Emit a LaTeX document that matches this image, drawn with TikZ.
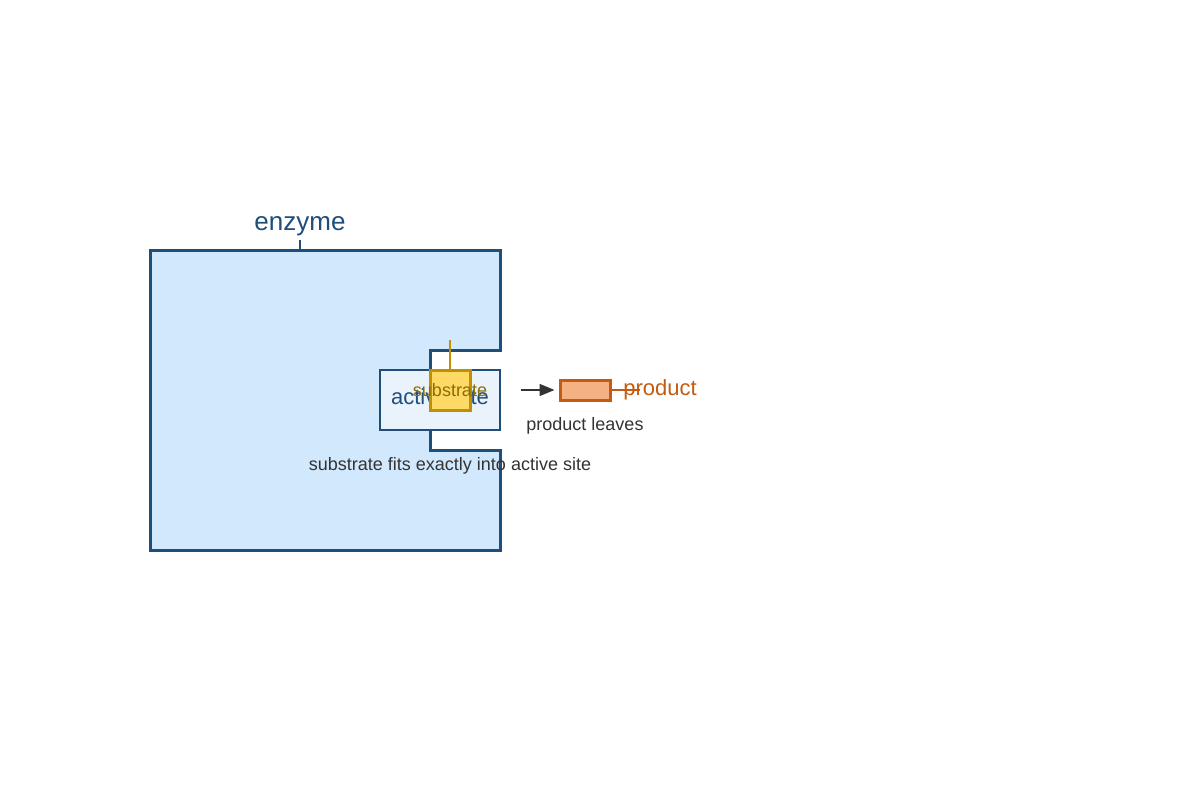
\documentclass[tikz,border=0pt]{standalone}
\usepackage{fontspec}
\setmainfont{Liberation Sans}
\usetikzlibrary{positioning, arrows.meta}

\definecolor{enzline}{HTML}{1F4E79}
\definecolor{enzfill}{HTML}{D2E8FD}
\definecolor{sitefill}{HTML}{EAF3FC}
\definecolor{subline}{HTML}{BF9000}
\definecolor{subfill}{HTML}{FFD966}
\definecolor{subtext}{HTML}{8C6D00}
\definecolor{prodline}{HTML}{C55A11}
\definecolor{prodfill}{HTML}{F4B183}
\definecolor{notetext}{HTML}{333333}

\begin{document}
\begin{tikzpicture}[x=1pt, y=-1pt]
        \tikzstyle{note}=[text=notetext, font=\fontsize{18}{20}\selectfont, inner sep=0pt];
        \tikzstyle{big}=[font=\fontsize{22}{24}\selectfont, inner sep=0pt];
        \useasboundingbox[fill=white] (0,0) rectangle (1200,800);

        % enzyme with its notch
        \draw[enzline, fill=enzfill, line width=3pt, line join=miter]
        (150,250) -- (500,250) -- (500,350) -- (430,350) -- (430,450)
        -- (500,450) -- (500,550) -- (150,550) -- cycle;
        \coordinate (enztop) at (300,250);
        \node[big, font=\fontsize{26}{28}\selectfont, text=enzline] (enzlabel) at (300,226) {enzyme};

        \node[draw=enzline, fill=sitefill, line width=1.6pt, minimum width=120pt, minimum height=60pt, inner sep=0pt] (site) at (440,400) {};
        \node[big, text=enzline] (sitelabel) at (440,397) {active site};

        \node[draw=subline, fill=subfill, line width=3pt, minimum size=40pt, inner sep=0pt] (sub) at (450,390) {};
        \coordinate (subtop) at (450,340);
        \node[note, text=subtext] (sublabel) at (450,390) {substrate};

        \node[draw=prodline, fill=prodfill, line width=3pt, minimum width=50pt, minimum height=20pt, inner sep=0pt] (prod) at (585,390) {};
        \coordinate (prodend) at (640,390);
        \node[big, text=prodline] (prodlabel) at (660,390) {product};

        \node[note] (leaves) at (585,426) {product leaves};
        \node[note] (fits) at (450,466) {substrate fits exactly into active site};

        \draw[enzline, line width=1.5pt] (enztop) -- ++(0,-10);
        \draw[subline, line width=2pt] (subtop) -- (sub.north);
        \draw[prodline, line width=2pt] (prod.east) -- (prodend);
        \draw[-{Triangle[length=15pt, width=12pt]}, notetext, line width=1.5pt, shorten <=20pt, shorten >=4pt] (site.east |- prod.west) -- (prod.west);
      \end{tikzpicture}
\end{document}
